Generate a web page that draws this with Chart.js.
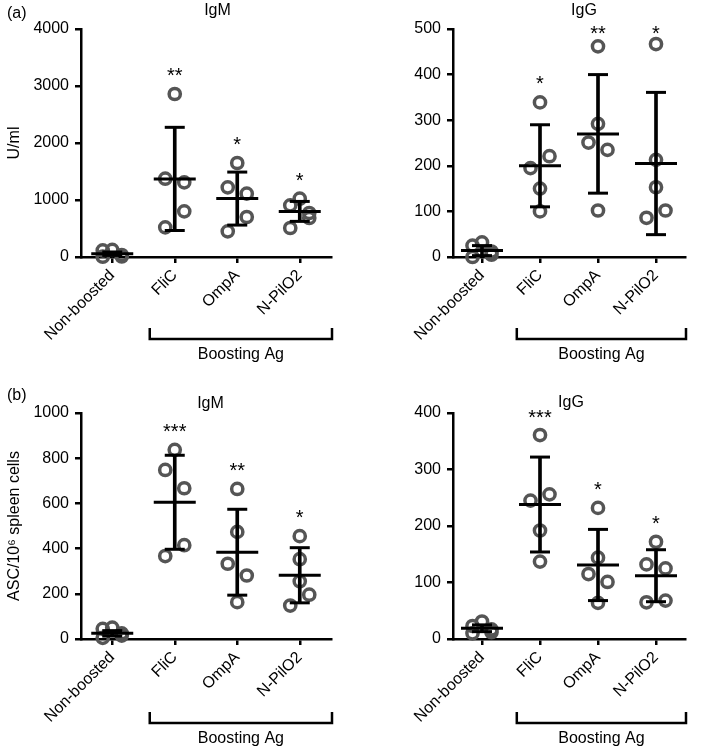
<!DOCTYPE html>
<html><head><meta charset="utf-8">
<script src="https://cdn.jsdelivr.net/npm/chart.js@4.4.0/dist/chart.umd.min.js"></script>
<style>
html,body{margin:0;padding:0;background:#fff;width:709px;height:748px;overflow:hidden}
.p{position:absolute}
canvas{display:block}
</style></head><body>
<div class="p" style="left:0;top:0"><canvas id="c1" width="355" height="374"></canvas></div>
<div class="p" style="left:360px;top:0"><canvas id="c2" width="349" height="374"></canvas></div>
<div class="p" style="left:0;top:374px"><canvas id="c3" width="355" height="374"></canvas></div>
<div class="p" style="left:360px;top:374px"><canvas id="c4" width="349" height="374"></canvas></div>
<script>
// ---------- data ----------
const categories = ['Non-boosted', 'FliC', 'OmpA', 'N-PilO2'];
const groupLabel = 'Boosting Ag';

// (a) serum IgM, U/ml
const serumIgMPoints = [[125, 115, 35, 10, 5], [2860, 1374, 1310, 801, 520], [1649, 1222, 1111, 702, 450], [1023, 906, 772, 684, 509]];
const serumIgMMean = [58, 1370, 1025, 800];
const serumIgMSD = [30, 905, 465, 175];
const serumIgMStars = ['', '**', '*', '*'];

// (a) serum IgG, U/ml
const serumIgGPoints = [[32, 25, 12, 5, 0], [339, 221, 195, 150, 100], [462, 292, 251, 235, 102], [467, 213, 153, 102, 86]];
const serumIgGMean = [14, 200, 270, 205];
const serumIgGSD = [11, 90, 130, 156];
const serumIgGStars = ['', '*', '**', '*'];

// (b) ASC IgM per 10^6 spleen cells
const ascIgMPoints = [[50, 45, 25, 15, 5], [837, 748, 667, 415, 367], [664, 474, 333, 281, 163], [455, 353, 255, 196, 148]];
const ascIgMMean = [25, 605, 384, 282];
const ascIgMSD = [12, 208, 190, 122];
const ascIgMStars = ['', '***', '**', '*'];

// (b) ASC IgG per 10^6 spleen cells
const ascIgGPoints = [[31, 23, 17, 12, 10], [361, 256, 245, 192, 137], [232, 144, 115, 101, 64], [172, 132, 125, 68, 65]];
const ascIgGMean = [19, 238, 131, 112];
const ascIgGSD = [6, 84, 63, 46];
const ascIgGStars = ['', '***', '*', '*'];

// y-axis ranges / ticks
const serumIgMAxis = {min: 0, max: 4000, step: 1000};
const serumIgGAxis = {min: 0, max: 500, step: 100};
const ascIgMAxis = {min: 0, max: 1000, step: 200};
const ascIgGAxis = {min: 0, max: 400, step: 100};

// ---------- rendering ----------
const FONT = "'Liberation Sans', Arial, Helvetica, sans-serif";
const POINT_COLOR = '#555555';

const extras = {
  id: 'extras',
  afterDatasetsUpdate(chart) {
    const xs = chart.scales.x;
    chart.data.datasets.forEach((d, di) => {
      if (!d.jitter) return;
      const meta = chart.getDatasetMeta(di);
      const groups = {};
      meta.data.forEach((el, i) => {
        const k = categories.indexOf(d.data[i].x);
        (groups[k] = groups[k] || []).push(el);
      });
      const T = 18.5, dx = 9.5;
      Object.keys(groups).forEach(k => {
        const base = xs.getPixelForValue(+k);
        const els = groups[k].slice().sort((a, b) => b.y - a.y);
        let i = 0, row = 0;
        while (i < els.length) {
          if (i + 1 < els.length && Math.abs(els[i].y - els[i + 1].y) < T) {
            const s = row % 2 === 0 ? -1 : 1;
            els[i].x = base + s * dx;
            els[i + 1].x = base - s * dx;
            i += 2;
          } else {
            els[i].x = base;
            i += 1;
          }
          row++;
        }
      });
    });
  },
  afterDraw(chart, args, o) {
    const ctx = chart.ctx, xs = chart.scales.x, ys = chart.scales.y, ca = chart.chartArea;
    ctx.save();
    ctx.fillStyle = '#000';
    ctx.strokeStyle = '#000';
    // title
    ctx.font = `16px ${FONT}`;
    ctx.textAlign = 'center';
    ctx.textBaseline = 'middle';
    ctx.fillText(o.title, (ca.left + ca.right) / 2 + o.titleDx, o.titleY);
    if (o.letter) {
      ctx.textAlign = 'left';
      ctx.fillText(o.letter, 7, o.letterY);
    }
    // significance stars
    ctx.font = `20px ${FONT}`;
    ctx.textAlign = 'center';
    ctx.textBaseline = 'alphabetic';
    o.stars.forEach((s, k) => {
      if (!s) return;
      const top = Math.max(Math.max(...o.points[k]), o.means[k] + o.sds[k]);
      const y = Math.max(ys.getPixelForValue(top) - 22, ca.top + 1);
      ctx.fillText(s, xs.getPixelForValue(k), y + 10);
    });
    // bracket
    const cw = xs.getPixelForValue(1) - xs.getPixelForValue(0);
    const bl = xs.getPixelForValue(1) - 0.4 * cw;
    const br = ca.right + 1;
    const by0 = ca.bottom + o.bracketY, by1 = by0 + 11;
    ctx.lineWidth = 2.5;
    ctx.beginPath();
    ctx.moveTo(bl, by0); ctx.lineTo(bl, by1); ctx.lineTo(br, by1); ctx.lineTo(br, by0);
    ctx.stroke();
    ctx.font = `16px ${FONT}`;
    ctx.textBaseline = 'middle';
    ctx.fillText(groupLabel, (bl + br) / 2, by1 + 16);
    ctx.restore();
  }
};

function makeChart(id, cfg) {
  const pts = [];
  cfg.points.forEach((grp, k) => grp.forEach(v => pts.push({x: categories[k], y: v})));
  const lineCommon = {type: 'line', showLine: false, pointStyle: 'line', borderColor: '#000', backgroundColor: '#000', pointBorderWidth: 3, pointHoverRadius: 0, clip: false, order: 0};
  const datasets = [
    Object.assign({}, lineCommon, {label: 'mean', data: cfg.means, pointRadius: 21}),
    Object.assign({}, lineCommon, {label: 'mean+SD', data: cfg.means.map((m, i) => m + cfg.sds[i]), pointRadius: 10}),
    Object.assign({}, lineCommon, {label: 'mean-SD', data: cfg.means.map((m, i) => m - cfg.sds[i]), pointRadius: 10}),
    {type: 'bar', label: 'SD', data: cfg.means.map((m, i) => [m - cfg.sds[i], m + cfg.sds[i]]), backgroundColor: '#000', borderWidth: 0, barThickness: 3, order: 1},
    {type: 'line', label: 'values', data: pts, showLine: false, pointStyle: 'circle', pointRadius: 5.6, pointHoverRadius: 5.6, pointBorderWidth: 3.5, borderColor: POINT_COLOR, backgroundColor: 'rgba(0,0,0,0)', jitter: true, clip: false, order: 2}
  ];
  const ax = cfg.axis;
  new Chart(document.getElementById(id), {
    type: 'bar',
    data: {labels: categories, datasets},
    plugins: [extras],
    options: {
      responsive: false,
      animation: false,
      events: [],
      layout: {padding: {top: cfg.padTop, right: cfg.padRight, left: 0, bottom: 0}},
      plugins: {
        legend: {display: false},
        tooltip: {enabled: false},
        extras: {title: cfg.title, titleDx: cfg.titleDx, titleY: cfg.titleY, letter: cfg.letter, letterY: cfg.letterY,
                 stars: cfg.stars, points: cfg.points, means: cfg.means, sds: cfg.sds, bracketY: cfg.bracketY}
      },
      scales: {
        x: {
          offset: true,
          grid: {offset: false, drawOnChartArea: false, drawTicks: true, tickLength: 6, color: '#000', lineWidth: 2.5},
          border: {display: true, color: '#000', width: 2.5},
          ticks: {autoSkip: false, minRotation: 45, maxRotation: 45, padding: 3, color: '#000', font: {family: FONT, size: 16}},
          afterFit: s => { s.height = cfg.xHeight; }
        },
        y: {
          min: ax.min, max: ax.max,
          grid: {drawOnChartArea: false, drawTicks: true, tickLength: 6, color: '#000', lineWidth: 2.5},
          border: {display: true, color: '#000', width: 2.5},
          ticks: {stepSize: ax.step, padding: 6, color: '#000', font: {family: FONT, size: 16}, callback: v => String(v)},
          title: {display: !!cfg.yTitle, text: cfg.yTitle || '', color: '#000', font: {family: FONT, size: 16}, padding: {top: 5, bottom: 0}},
          afterFit: s => { s.width = cfg.yWidth; }
        }
      }
    }
  });
}

makeChart('c1', {points: serumIgMPoints, means: serumIgMMean, sds: serumIgMSD, stars: serumIgMStars, axis: serumIgMAxis,
  title: 'IgM', titleDx: 11.5, titleY: 11, letter: '(a)', letterY: 14, yTitle: 'U/ml',
  padTop: 29, padRight: 19, xHeight: 117, yWidth: 81, bracketY: 71});
makeChart('c2', {points: serumIgGPoints, means: serumIgGMean, sds: serumIgGSD, stars: serumIgGStars, axis: serumIgGAxis,
  title: 'IgG', titleDx: 15, titleY: 11, letter: '', letterY: 0, yTitle: '',
  padTop: 29, padRight: 2, xHeight: 117, yWidth: 93, bracketY: 71});
makeChart('c3', {points: ascIgMPoints, means: ascIgMMean, sds: ascIgMSD, stars: ascIgMStars, axis: ascIgMAxis,
  title: 'IgM', titleDx: 4.5, titleY: 30, letter: '(b)', letterY: 22, yTitle: 'ASC/10\u2076 spleen cells',
  padTop: 39, padRight: 19, xHeight: 109, yWidth: 81, bracketY: 73});
makeChart('c4', {points: ascIgGPoints, means: ascIgGMean, sds: ascIgGSD, stars: ascIgGStars, axis: ascIgGAxis,
  title: 'IgG', titleDx: 2, titleY: 29, letter: '', letterY: 0, yTitle: '',
  padTop: 39, padRight: 2, xHeight: 109, yWidth: 93, bracketY: 73});
</script>
</body></html>
